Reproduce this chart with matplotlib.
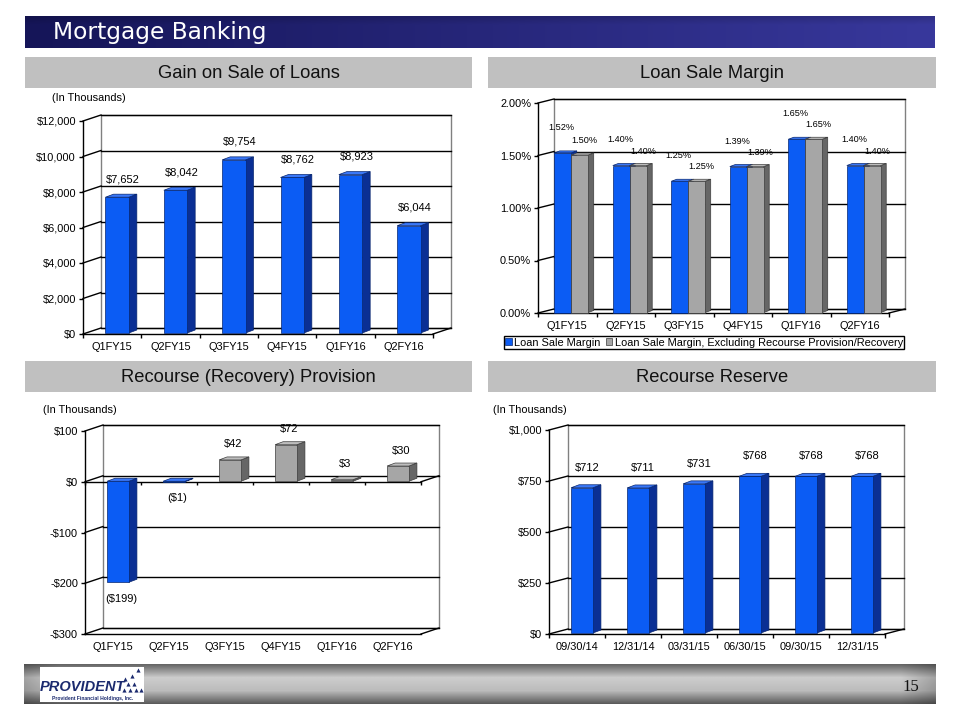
import numpy as np
import matplotlib
matplotlib.use('Agg')
import matplotlib.pyplot as plt
from matplotlib.patches import Rectangle, Polygon, Patch

# ---------------- data ----------------
gain_cats = ['Q1FY15', 'Q2FY15', 'Q3FY15', 'Q4FY15', 'Q1FY16', 'Q2FY16']
gain_vals = [7652, 8042, 9754, 8762, 8923, 6044]
gain_ticks = [0, 2000, 4000, 6000, 8000, 10000, 12000]

margin_cats = ['Q1FY15', 'Q2FY15', 'Q3FY15', 'Q4FY15', 'Q1FY16', 'Q2FY16']
margin_vals = [1.52, 1.40, 1.25, 1.39, 1.65, 1.40]
margin_excl_vals = [1.50, 1.40, 1.25, 1.39, 1.65, 1.40]
margin_ticks = [0.0, 0.5, 1.0, 1.5, 2.0]
margin_series = ['Loan Sale Margin',
                 'Loan Sale Margin, Excluding Recourse Provision/Recovery']

prov_cats = ['Q1FY15', 'Q2FY15', 'Q3FY15', 'Q4FY15', 'Q1FY16', 'Q2FY16']
prov_vals = [-199, -1, 42, 72, 3, 30]
prov_ticks = [-300, -200, -100, 0, 100]

reserve_cats = ['09/30/14', '12/31/14', '03/31/15', '06/30/15', '09/30/15', '12/31/15']
reserve_vals = [712, 711, 731, 768, 768, 768]
reserve_ticks = [0, 250, 500, 750, 1000]

# ---------------- styles ----------------
W, H = 960, 720
BLUE = ('#0b5cf4', '#0a2f94', '#3a78f8', '#06256e')   # front, side, top, edge
GRAY = ('#a6a6a6', '#666666', '#bdbdbd', '#3c3c3c')
FONT = 'Liberation Sans'
TICK = 7.9

fig = plt.figure(figsize=(W / 100, H / 100), dpi=100)
bg = fig.add_axes([0, 0, 1, 1])
bg.axis('off')

# title bar gradient
t = np.linspace(0, 1, 256)
left = np.array([0x15, 0x15, 0x58]) / 255
right = np.array([0x38, 0x38, 0x9c]) / 255
row = left[None, :] * (1 - t[:, None]) + right[None, :] * t[:, None]
vshade = np.concatenate([np.linspace(0.85, 1.0, 6), np.ones(14)])
img = row[None, :, :] * vshade[:, None, None]
bg.imshow(img, extent=(25, 935, 48, 16), aspect='auto', interpolation='bilinear', zorder=0)
bg.text(53, 33, 'Mortgage Banking', color='white', fontsize=16.8, family='DejaVu Sans',
        va='center', ha='left', zorder=2)

# section headers
headers = [((25, 57, 447, 31), 'Gain on Sale of Loans'),
           ((488, 57, 448, 31), 'Loan Sale Margin'),
           ((25, 361, 447, 31), 'Recourse (Recovery) Provision'),
           ((488, 361, 448, 31), 'Recourse Reserve')]
for (x, y, w, h), txt in headers:
    bg.add_patch(Rectangle((x, y), w, h, facecolor='#c0c0c0', edgecolor='none', zorder=1))
    bg.text(x + w / 2, y + h / 2 + 1, txt, fontsize=13.2, family=FONT, ha='center',
            va='center', color='#111111', zorder=2)

# footer band gradient
vprof = np.concatenate([np.linspace(0.40, 0.80, 14), np.linspace(0.80, 0.74, 12),
                        np.linspace(0.74, 0.36, 14)])
hprof = np.ones(300)
hprof[:12] = np.linspace(0.8, 1.0, 12)
hprof[-12:] = np.linspace(1.0, 0.8, 12)
fimg = (vprof[:, None] * hprof[None, :])[:, :, None] * np.ones(3)[None, None, :]
fimg = np.clip(fimg, 0, 1)
bg.imshow(fimg, extent=(24, 936, 704, 664), aspect='auto', interpolation='bilinear', zorder=0)
bg.add_patch(Rectangle((40, 667), 104, 35, facecolor='white', edgecolor='none', zorder=1))
bg.text(40, 687, 'PROVIDENT', fontsize=10.5, family=FONT, fontweight='bold',
        fontstyle='italic', color='#1b2a6e', va='center', ha='left', zorder=2)
bg.text(93, 698.5, 'Provident Financial Holdings, Inc.', fontsize=3.6, family=FONT,
        fontweight='bold', color='#1b2a6e', va='center', ha='center', zorder=2)
bg.scatter([124, 130, 136, 141, 128, 134, 125, 132, 138],
           [690, 690, 690, 690, 684, 684, 679, 676, 670],
           marker='^', s=9, color='#1b2a6e', zorder=2, linewidths=0)
bg.text(911, 687, '15', fontsize=12, family='Liberation Serif', color='#111111',
        va='center', ha='center', zorder=2)

bg.set_xlim(0, W)
bg.set_ylim(H, 0)


# ---------------- helpers ----------------
def make_ax(x0, x1, ytop, ybot):
    ax = fig.add_axes([x0 / W, 1 - ybot / H, (x1 - x0) / W, (ybot - ytop) / H])
    ax.patch.set_visible(False)
    return ax


def px(ax, dx, dy):
    bb = ax.get_position()
    x0, x1 = ax.get_xlim()
    y0, y1 = ax.get_ylim()
    return dx * (x1 - x0) / (bb.width * W), dy * (y1 - y0) / (bb.height * H)


def frame(ax, cats, ymin, ymax, ticks, fmt, D, zero_axis=False):
    n = len(cats)
    ax.set_xlim(-0.5, n - 0.5)
    ax.set_ylim(ymin, ymax)
    ddx, ddy = px(ax, *D)
    xl, xr = -0.5, n - 0.5
    ax.add_patch(Rectangle((xl + ddx, ymin + ddy), n, ymax - ymin, facecolor='white',
                           edgecolor='#808080', lw=1.0, zorder=0, clip_on=False))
    for tv in ticks:
        ax.plot([xl + ddx, xr + ddx], [tv + ddy] * 2, color='black', lw=1.0, zorder=1,
                clip_on=False)
        ax.plot([xl, xl + ddx], [tv, tv + ddy], color='black', lw=1.0, zorder=1,
                clip_on=False)
    ax.plot([xr, xr + ddx], [ymin, ymin + ddy], color='black', lw=1.0, zorder=1,
            clip_on=False)
    for s in ['top', 'right']:
        ax.spines[s].set_visible(False)
    for s in ['left', 'bottom']:
        ax.spines[s].set_linewidth(1.0)
        ax.spines[s].set_zorder(2)
    ax.set_yticks(ticks)
    ax.set_yticklabels([fmt(v) for v in ticks])
    ax.tick_params(axis='y', length=3, width=1, labelsize=TICK, pad=2)
    ax.set_xticks(range(n))
    ax.set_xticklabels(cats)
    ax.tick_params(axis='x', which='major', length=0, labelsize=TICK, pad=6)
    for lab in ax.get_xticklabels() + ax.get_yticklabels():
        lab.set_family(FONT)
    bounds = np.arange(n + 1) - 0.5
    if zero_axis:
        ax.plot([xl, xr], [0, 0], color='black', lw=1.0, zorder=2, clip_on=False)
        ax.plot([xr, xr + ddx], [0, ddy], color='black', lw=1.0, zorder=1, clip_on=False)
        tk = px(ax, 0, 3)[1]
        ax.vlines(bounds, -tk, 0, color='black', lw=1.0, zorder=2, clip_on=False)
    else:
        ax.set_xticks(bounds, minor=True)
        ax.tick_params(axis='x', which='minor', length=3, width=1)


def bar3d(ax, xs, vals, width, shift, depth, colors, z=3):
    front, side, top, edge = colors
    sdx, sdy = px(ax, *shift)
    bdx, bdy = px(ax, *depth)
    xs = np.asarray(xs, dtype=float)
    for x, v in zip(xs, vals):
        lo, hi = min(0, v) + sdy, max(0, v) + sdy
        x0 = x + sdx - width / 2
        x1 = x0 + width
        ax.add_patch(Polygon([(x1, lo), (x1, hi), (x1 + bdx, hi + bdy), (x1 + bdx, lo + bdy)],
                             closed=True, facecolor=side, edgecolor=edge, lw=0.5,
                             zorder=z, clip_on=False))
        ax.add_patch(Polygon([(x0, hi), (x1, hi), (x1 + bdx, hi + bdy), (x0 + bdx, hi + bdy)],
                             closed=True, facecolor=top, edgecolor=edge, lw=0.5,
                             zorder=z, clip_on=False))
    ax.bar(xs + sdx, vals, width, bottom=sdy, color=front, edgecolor=edge, lw=0.5,
           zorder=z + 0.5, clip_on=False)


def labels(ax, xs, vals, texts, dxp, dyp, size=8):
    for x, v, s in zip(xs, vals, texts):
        off = dyp if v >= 0 else -dyp
        ax.annotate(s, (x, v), xytext=(dxp, off), textcoords='offset pixels',
                    ha='center', va='center', fontsize=size, family=FONT, zorder=6,
                    annotation_clip=False)


# ---------------- chart 1: Gain on Sale of Loans ----------------
ax1 = make_ax(83, 433, 121, 334)
frame(ax1, gain_cats, 0, 12000, gain_ticks, lambda v: f'${v:,.0f}', (18, 6))
bar3d(ax1, range(6), gain_vals, 0.40, (5, 1), (8, 3), BLUE)
labels(ax1, range(6), gain_vals, [f'${v:,.0f}' for v in gain_vals], 11, 19)
bg.text(52, 98, '(In Thousands)', fontsize=7.9, family=FONT, va='center', ha='left')

# ---------------- chart 2: Loan Sale Margin ----------------
ax2 = make_ax(538, 889, 103, 313)
frame(ax2, margin_cats, 0, 2.0, margin_ticks, lambda v: f'{v:.2f}%', (16, 4))
bw = 0.29
x_blue = np.arange(6) - bw / 2
x_gray = np.arange(6) + bw / 2
bar3d(ax2, x_blue, margin_vals, bw, (4, 0.5), (5.5, 2), BLUE, z=3)
bar3d(ax2, x_gray, margin_excl_vals, bw, (4, 0.5), (5.5, 2), GRAY, z=4)
labels(ax2, x_blue, margin_vals, [f'{v:.2f}%' for v in margin_vals], 3, 26, size=6.6)
labels(ax2, x_gray, margin_excl_vals, [f'{v:.2f}%' for v in margin_excl_vals], 9, 15,
       size=6.6)
fig.legend(handles=[Patch(facecolor=BLUE[0], edgecolor=BLUE[3], lw=0.5),
                    Patch(facecolor=GRAY[0], edgecolor=GRAY[3], lw=0.5)],
           labels=margin_series, loc='center', bbox_to_anchor=(704 / W, 1 - 342.5 / H),
           ncol=2, frameon=True, fancybox=False, edgecolor='black', framealpha=1,
           prop={'family': FONT, 'size': 7.9}, handlelength=0.6, handleheight=0.6,
           handletextpad=0.2, columnspacing=0.5, borderpad=0.15, borderaxespad=0)

# ---------------- chart 3: Recourse (Recovery) Provision ----------------
ax3 = make_ax(85, 421, 431, 634)
frame(ax3, prov_cats, -300, 100, prov_ticks,
      lambda v: f'${v:,.0f}' if v >= 0 else f'-${-v:,.0f}', (18, 6), zero_axis=True)
for i, v in enumerate(prov_vals):
    bar3d(ax3, [i], [v], 0.39, (5, 0.5), (8, 3), BLUE if v < 0 else GRAY)
labels(ax3, range(6), prov_vals,
       [f'${v:,.0f}' if v >= 0 else f'(${-v:,.0f})' for v in prov_vals], 8, 16)
bg.text(43, 410, '(In Thousands)', fontsize=7.9, family=FONT, va='center', ha='left')

# ---------------- chart 4: Recourse Reserve ----------------
ax4 = make_ax(549, 885, 430, 634)
frame(ax4, reserve_cats, 0, 1000, reserve_ticks, lambda v: f'${v:,.0f}', (19, 5))
bar3d(ax4, range(6), reserve_vals, 0.39, (5, 1), (8, 3), BLUE)
labels(ax4, range(6), reserve_vals, [f'${v:,.0f}' for v in reserve_vals], 10, 21)
bg.text(493, 410, '(In Thousands)', fontsize=7.9, family=FONT, va='center', ha='left')

fig.savefig('out.png', dpi=100)
